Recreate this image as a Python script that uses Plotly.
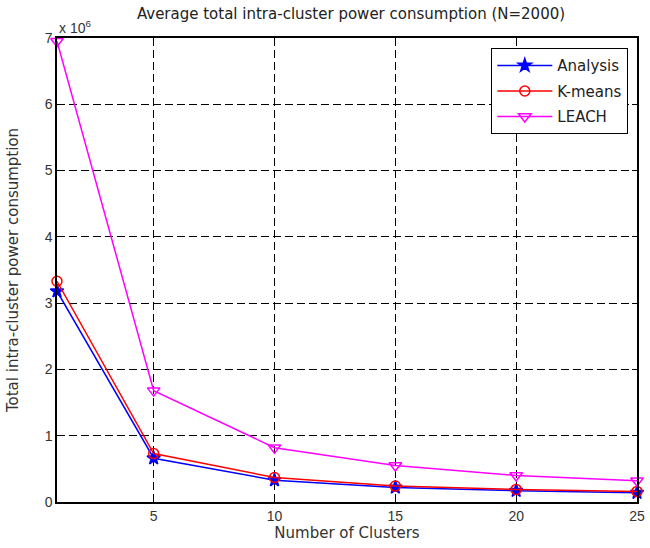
import plotly.graph_objects as go

# Number of clusters evaluated
clusters = [1, 5, 10, 15, 20, 25]

# Average total intra-cluster power consumption per method
analysis = [3.18e6, 0.66e6, 0.33e6, 0.22e6, 0.17e6, 0.14e6]
kmeans = [3.33e6, 0.73e6, 0.37e6, 0.24e6, 0.19e6, 0.16e6]
leach = [6.95e6, 1.68e6, 0.82e6, 0.55e6, 0.40e6, 0.32e6]

y_ticks = [0, 1e6, 2e6, 3e6, 4e6, 5e6, 6e6, 7e6]
y_tick_labels = ["0", "1", "2", "3", "4", "5", "6", "7"]
x_ticks = [5, 10, 15, 20, 25]

TICK_FONT = "Liberation Sans, Arial, sans-serif"
LABEL_FONT = "DejaVu Sans, Verdana, sans-serif"
TEXT_COLOR = "#333333"

fig = go.Figure()

series = [
    ("Analysis", analysis, "#0000ff", "star", 10),
    ("K-means", kmeans, "#ff0000", "circle-open", 10),
    ("LEACH", leach, "#ff00ff", "triangle-down-open", 11),
]
for name, vals, color, symbol, size in series:
    fig.add_trace(go.Scatter(
        x=clusters, y=vals, name=name, legendgroup=name,
        mode="lines+markers",
        line=dict(color=color, width=1.5),
        marker=dict(symbol=symbol, size=size, color=color,
                    line=dict(color=color, width=1.5)),
        cliponaxis=False,
    ))

axis_common = dict(
    showline=True, linecolor="black", linewidth=1.5, mirror="ticks",
    ticks="inside", ticklen=5, tickcolor="black",
    showgrid=True, gridcolor="black", griddash="8px,4px", gridwidth=1,
    zeroline=False, ticklabeloverflow="allow",
    tickfont=dict(family=TICK_FONT, size=14, color=TEXT_COLOR),
)

fig.update_xaxes(
    range=[1, 25], tickvals=x_ticks,
    title=dict(text="Number of Clusters", standoff=5,
               font=dict(family=LABEL_FONT, size=15, color=TEXT_COLOR)),
    **axis_common,
)
fig.update_yaxes(
    range=[0, 7e6], tickvals=y_ticks, ticktext=y_tick_labels,
    title=dict(text="Total intra-cluster power consumption", standoff=22,
               font=dict(family=LABEL_FONT, size=15, color=TEXT_COLOR)),
    **axis_common,
)

fig.add_annotation(
    xref="paper", yref="paper", x=0.0, y=1.0, xanchor="left", yanchor="bottom",
    text="x 10<sup>6</sup>", showarrow=False, yshift=0,
    font=dict(family=TICK_FONT, size=14, color=TEXT_COLOR),
)

fig.update_layout(
    width=650, height=548,
    margin=dict(l=57, r=5, t=38, b=46),
    paper_bgcolor="white", plot_bgcolor="white",
    title=dict(text="Average total intra-cluster power consumption (N=2000)",
               x=0.54, xanchor="center", y=0.984, yanchor="top",
               font=dict(family=LABEL_FONT, size=15, color="#222222")),
    legend=dict(x=0.985, y=0.978, xanchor="right", yanchor="top",
                bgcolor="white", bordercolor="black", borderwidth=1,
                font=dict(family=LABEL_FONT, size=15, color="#222222"),
                itemwidth=55, tracegroupgap=3),
    showlegend=True,
)

fig.write_html("out.html")
